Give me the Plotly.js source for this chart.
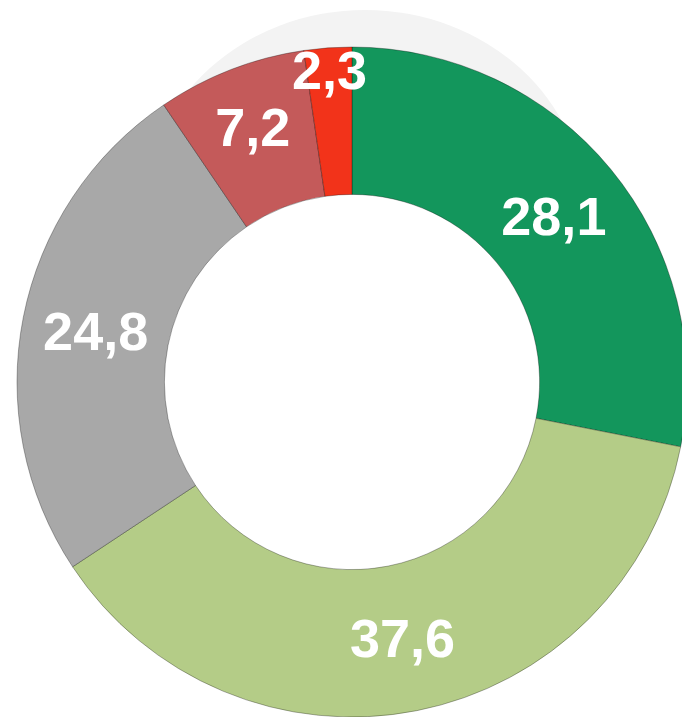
<!DOCTYPE html>
<html>
<head>
<meta charset="utf-8">
<script src="https://cdn.plot.ly/plotly-3.0.1.min.js"></script>
<style>
html, body { margin: 0; padding: 0; overflow: hidden; background: #ffffff; }
#chart { width: 704px; height: 717px; }
</style>
</head>
<body>
<div id="chart"></div>
<script>
const categories = ["A", "B", "C", "D", "E"];
const values = [28.1, 37.6, 24.8, 7.2, 2.3];
const valueLabels = ["28,1", "37,6", "24,8", "7,2", "2,3"];
const colors = ["#13965c", "#b4cc87", "#a8a8a8", "#c45a5a", "#f2331a"];

const W = 704, H = 717;
const cx = 352, cyTop = 382, R = 335, holeFrac = 0.56;

const trace = {
  type: "pie",
  labels: categories,
  values: values,
  text: valueLabels,
  textinfo: "text",
  textposition: "inside",
  insidetextorientation: "horizontal",
  sort: false,
  direction: "clockwise",
  rotation: 0,
  hole: holeFrac,
  marker: { colors: colors, line: { color: "rgba(0,0,0,0.3)", width: 1 } },
  textfont: { family: "'Liberation Sans', Arial, sans-serif", size: 54, color: "#ffffff", weight: "bold" },
  domain: { x: [(cx - R) / W, (cx + R) / W], y: [(H - cyTop - R) / H, (H - cyTop + R) / H] },
  hoverinfo: "none",
  showlegend: false
};

// faint watermark behind the top of the ring
const wx = 365, wy = 210, wrx = 220, wry = 200;
const rh = R * holeFrac;
const layout = {
  width: W,
  height: H,
  margin: { l: 0, r: 0, t: 0, b: 0 },
  paper_bgcolor: "#ffffff",
  showlegend: false,
  uniformtext: { mode: "show", minsize: 54 },
  shapes: [{
    type: "circle", xref: "paper", yref: "paper", layer: "below",
    x0: (wx - wrx) / W, x1: (wx + wrx) / W,
    y0: (H - wy - wry) / H, y1: (H - wy + wry) / H,
    fillcolor: "#f3f3f3", line: { width: 0 }
  }, {
    type: "circle", xref: "paper", yref: "paper", layer: "below",
    x0: (cx - rh) / W, x1: (cx + rh) / W,
    y0: (H - cyTop - rh) / H, y1: (H - cyTop + rh) / H,
    fillcolor: "#ffffff", line: { width: 0 }
  }]
};

Plotly.newPlot("chart", [trace], layout, { displayModeBar: false, staticPlot: true });
</script>
</body>
</html>
